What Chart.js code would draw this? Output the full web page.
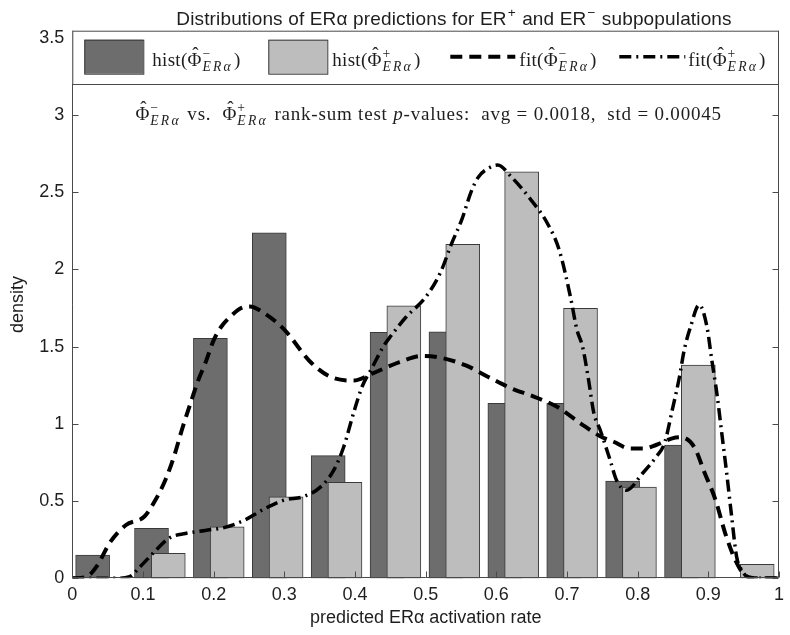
<!DOCTYPE html>
<html>
<head>
<meta charset="utf-8">
<script src="https://cdn.jsdelivr.net/npm/chart.js@4.4.1/dist/chart.umd.min.js"></script>
<style>
  body { margin: 0; background: #fff; }
</style>
</head>
<body>
<canvas id="chart" width="790" height="635"></canvas>
<script>
// ---- data ----
const binCount = 12;                       // hist bins over [0, 1]
const negDensity = [0.151, 0.324, 1.553, 2.237, 0.794, 1.592, 1.596, 1.133, 1.133, 0.629, 0.862, 0];
const posDensity = [0, 0.162, 0.334, 0.528, 0.621, 1.764, 2.162, 2.632, 1.748, 0.590, 1.380, 0.090];

const negFitX = [0, 0.02, 0.035, 0.053, 0.076, 0.102, 0.118, 0.132, 0.144, 0.155, 0.167, 0.178, 0.188, 0.2,
  0.211, 0.225, 0.239, 0.251, 0.272, 0.3, 0.337, 0.365, 0.398, 0.425, 0.463, 0.495, 0.519, 0.556, 0.588,
  0.621, 0.654, 0.686, 0.72, 0.747, 0.766, 0.789, 0.808, 0.826, 0.849, 0.861, 0.88, 0.895, 0.91, 0.924,
  0.938, 0.952, 0.97, 1.0];
const negFitY = [0, 0.01, 0.08, 0.23, 0.345, 0.40, 0.51, 0.64, 0.79, 0.96, 1.13, 1.28, 1.39, 1.54,
  1.63, 1.70, 1.75, 1.76, 1.715, 1.61, 1.40, 1.305, 1.28, 1.327, 1.40, 1.44, 1.43, 1.38, 1.305,
  1.23, 1.175, 1.11, 1.0, 0.92, 0.884, 0.84, 0.84, 0.863, 0.906, 0.913, 0.85, 0.68, 0.51, 0.29,
  0.12, 0.02, 0, 0];

const posFitX = [0, 0.06, 0.081, 0.095, 0.118, 0.137, 0.16, 0.188, 0.216, 0.244, 0.272, 0.3, 0.328, 0.351,
  0.37, 0.384, 0.398, 0.41, 0.425, 0.44, 0.451, 0.472, 0.5, 0.521, 0.537, 0.551, 0.565, 0.575, 0.591,
  0.602, 0.621, 0.649, 0.672, 0.689, 0.705, 0.714, 0.722, 0.73, 0.738, 0.747, 0.761, 0.77, 0.784, 0.807,
  0.826, 0.838, 0.849, 0.859, 0.866, 0.875, 0.887, 0.898, 0.905, 0.912, 0.919, 0.926, 0.933, 0.94,
  0.947, 0.96, 1.0];
const posFitY = [0, 0, 0.01, 0.07, 0.18, 0.26, 0.29, 0.31, 0.33, 0.377, 0.45, 0.507, 0.53, 0.59,
  0.70, 0.85, 1.07, 1.24, 1.37, 1.5, 1.57, 1.69, 1.82, 1.98, 2.17, 2.32, 2.51, 2.60, 2.66,
  2.675, 2.60, 2.45, 2.30, 2.125, 1.82, 1.61, 1.50, 1.30, 1.07, 0.96, 0.766, 0.636, 0.57, 0.68,
  0.785, 0.875, 1.09, 1.30, 1.48, 1.63, 1.77, 1.63, 1.41, 1.2, 0.94, 0.68, 0.40, 0.14,
  0.054, 0, 0];

const xTicks = [0, 0.1, 0.2, 0.3, 0.4, 0.5, 0.6, 0.7, 0.8, 0.9, 1];
const yTicks = [0, 0.5, 1, 1.5, 2, 2.5, 3, 3.5];

const titleText = 'Distributions of ERα predictions for ER';
const xLabel = 'predicted ERα activation rate';
const yLabel = 'density';
const statText = ' rank-sum test ';
const statTail = '-values:  avg = 0.0018,  std = 0.00045';

// ---- styling ----
const DARK = '#6d6d6d';
const LIGHT = '#bdbdbd';
const EDGE = '#3a3a3a';
const AXIS = '#4a4a4a';
const TEXT = '#1e1e1e';
const SANS = '"Liberation Sans", Arial, sans-serif';
const SERIF = '"Liberation Serif", "Times New Roman", serif';
const NEG_DASH = [12, 7];
const POS_DASH = [12, 5, 2, 5];

const binW = 1 / binCount;
// MATLAB grouped hist: dark bar sits left in the bin, light bar right, overlapping
const negBars = negDensity.map((v, k) => ({ x: (k + 0.345) * binW, y: v }));
const posBars = posDensity.map((v, k) => ({ x: (k + 0.63) * binW, y: v }));
const negFit = negFitX.map((x, i) => ({ x, y: negFitY[i] }));
const posFit = posFitX.map((x, i) => ({ x, y: posFitY[i] }));

// draw a string char by char with a fixed extra gap, returns advance
function spaced(ctx, str, x, y, gap, draw) {
  let cx = x;
  for (const ch of str) {
    if (draw) ctx.fillText(ch, cx, y);
    cx += ctx.measureText(ch).width + gap;
  }
  return cx - x;
}

// rich text: plain runs, Phi-hat, and stacked sup/sub scripts
function rich(ctx, parts, x, y, size, family, draw, ls) {
  let cx = x;
  const gap = ls || 0;
  ctx.textAlign = 'left';
  ctx.textBaseline = 'alphabetic';
  for (const p of parts) {
    if (p.t !== undefined) {
      ctx.font = (p.it ? 'italic ' : '') + size + 'px ' + family;
      cx += spaced(ctx, p.t, cx, y, gap, draw);
    } else if (p.hat) {
      ctx.font = size + 'px ' + family;
      const w = ctx.measureText(p.hat).width;
      if (draw) {
        ctx.fillText(p.hat, cx, y);
        ctx.textAlign = 'center';
        ctx.fillText('ˆ', cx + w / 2 + 1, y - size * 0.3);
        ctx.textAlign = 'left';
      }
      cx += w;
    } else {
      const s = size * 0.72;
      let w = 0;
      if (p.sup) {
        ctx.font = s + 'px ' + family;
        w = Math.max(w, spaced(ctx, p.sup, cx + 1, y - size * 0.4, 0, draw) + 1);
      }
      if (p.sub) {
        ctx.font = 'italic ' + s + 'px ' + family;
        w = Math.max(w, spaced(ctx, p.sub, cx + 1, y + size * 0.3, 2.2, draw) + 1);
      }
      cx += w + 1;
    }
  }
  return cx - x;
}

const phi = sign => [{ hat: 'Φ' }, { sup: sign, sub: 'ERα' }];

const figureText = {
  id: 'figureText',
  afterDraw(chart) {
    const { ctx, chartArea: a } = chart;
    ctx.save();
    ctx.fillStyle = TEXT;

    // title
    const titleParts = [{ t: titleText }, { sup: '+' }, { t: ' and ER' }, { sup: '−' }, { t: ' subpopulations' }];
    const tw = rich(ctx, titleParts, 0, 0, 19, SANS, false, 0.15);
    rich(ctx, titleParts, 454 - tw / 2, 25, 19, SANS, true, 0.15);

    // legend box
    const boxH = 53.3;
    ctx.fillStyle = '#fff';
    ctx.fillRect(a.left, a.top, a.right - a.left, boxH);
    ctx.strokeStyle = AXIS;
    ctx.lineWidth = 1;
    ctx.strokeRect(a.left + 0.5, a.top + 0.5, a.right - a.left - 1, boxH);

    const ds = chart.data.datasets;
    const midY = a.top + 26;
    const base = a.top + 35;
    const items = [
      { ds: ds[0], x0: 12, x1: 71, tx: 80, sign: '−', word: 'hist(' },
      { ds: ds[1], x0: 196, x1: 255, tx: 260, sign: '+', word: 'hist(' },
      { ds: ds[2], x0: 378, x1: 443, tx: 447, sign: '−', word: 'fit(' },
      { ds: ds[3], x0: 547, x1: 613, tx: 616, sign: '+', word: 'fit(' }
    ];
    items.forEach(it => {
      if (it.ds.type === 'bar') {
        ctx.fillStyle = it.ds.backgroundColor;
        ctx.fillRect(a.left + it.x0, midY - 17, it.x1 - it.x0, 34);
        ctx.strokeStyle = it.ds.borderColor;
        ctx.strokeRect(a.left + it.x0 + 0.5, midY - 16.5, it.x1 - it.x0, 34);
      } else {
        ctx.strokeStyle = it.ds.borderColor;
        ctx.lineWidth = it.ds.borderWidth;
        ctx.setLineDash(it.ds.borderDash);
        ctx.beginPath();
        ctx.moveTo(a.left + it.x0, midY);
        ctx.lineTo(a.left + it.x1, midY);
        ctx.stroke();
        ctx.setLineDash([]);
        ctx.lineWidth = 1;
      }
      ctx.fillStyle = TEXT;
      rich(ctx, [{ t: it.word }, ...phi(it.sign), { t: ')' }], a.left + it.tx, base, 19, SERIF, true, 0.3);
    });

    // rank-sum annotation
    const statParts = [...phi('−'), { t: ' vs.  ' }, ...phi('+'), { t: statText }, { t: 'p', it: true }, { t: statTail }];
    const sw = rich(ctx, statParts, 0, 0, 19, SERIF, false, 0.8);
    rich(ctx, statParts, (a.left + a.right) / 2 - sw / 2 + 3, 119.5, 19, SERIF, true, 0.8);
    ctx.restore();
  }
};

const frameTicks = {
  id: 'frameTicks',
  afterDatasetsDraw(chart) {
    const { ctx, chartArea: a, scales } = chart;
    ctx.save();
    ctx.strokeStyle = AXIS;
    ctx.lineWidth = 1;
    ctx.beginPath();
    const L = Math.round(a.left) + 0.5, R = Math.round(a.right) - 0.5, B = Math.round(a.bottom) - 0.5;
    ctx.moveTo(L, a.top); ctx.lineTo(L, B); ctx.lineTo(R, B); ctx.lineTo(R, a.top);
    scales.x.ticks.forEach(t => {
      const px = Math.round(scales.x.getPixelForValue(t.value)) + 0.5;
      ctx.moveTo(px, B); ctx.lineTo(px, B - 6);
    });
    scales.y.ticks.forEach(t => {
      const py = Math.round(scales.y.getPixelForValue(t.value)) + 0.5;
      ctx.moveTo(L, py); ctx.lineTo(L + 6, py);
      ctx.moveTo(R, py); ctx.lineTo(R - 6, py);
    });
    ctx.stroke();
    ctx.restore();
  }
};

new Chart(document.getElementById('chart'), {
  type: 'bar',
  data: {
    datasets: [
      { type: 'bar', label: 'hist neg', data: negBars, backgroundColor: DARK, borderColor: EDGE,
        borderWidth: 1, borderSkipped: false, barThickness: 34, grouped: false, order: 3 },
      { type: 'bar', label: 'hist pos', data: posBars, backgroundColor: LIGHT, borderColor: EDGE,
        borderWidth: 1, borderSkipped: false, barThickness: 34, grouped: false, order: 2 },
      { type: 'line', label: 'fit neg', data: negFit, borderColor: '#000', borderWidth: 4,
        borderDash: NEG_DASH, pointRadius: 0, cubicInterpolationMode: 'monotone', fill: false, order: 1 },
      { type: 'line', label: 'fit pos', data: posFit, borderColor: '#000', borderWidth: 3.5,
        borderDash: POS_DASH, pointRadius: 0, cubicInterpolationMode: 'monotone', fill: false, order: 0 }
    ]
  },
  options: {
    responsive: false,
    animation: false,
    events: [],
    layout: { padding: { top: 30.7, right: 2.3, left: 0, bottom: 0 } },
    plugins: { legend: { display: false }, title: { display: false }, tooltip: { enabled: false } },
    scales: {
      x: {
        type: 'linear', min: 0, max: 1, offset: false,
        grid: { display: false, drawTicks: false, offset: false },
        border: { display: false },
        afterBuildTicks: s => { s.ticks = xTicks.map(v => ({ value: v })); },
        afterFit: s => { s.height = 56.7; },
        ticks: { color: TEXT, font: { family: SANS, size: 18 }, padding: 6, maxRotation: 0,
          callback: v => String(v) },
        title: { display: true, text: xLabel, color: TEXT, font: { family: SANS, size: 18 },
          padding: { top: 0, bottom: 6 } }
      },
      y: {
        type: 'linear', min: 0, max: 3.545,
        grid: { display: false, drawTicks: false },
        border: { display: false },
        afterBuildTicks: s => { s.ticks = yTicks.map(v => ({ value: v })); },
        afterFit: s => { s.width = 72.3; },
        ticks: { color: TEXT, font: { family: SANS, size: 18 }, padding: 8,
          callback: v => String(v) },
        title: { display: true, text: yLabel, color: TEXT, font: { family: SANS, size: 18 },
          padding: { top: 7, bottom: 0 } }
      }
    }
  },
  plugins: [frameTicks, figureText]
});
</script>
</body>
</html>
